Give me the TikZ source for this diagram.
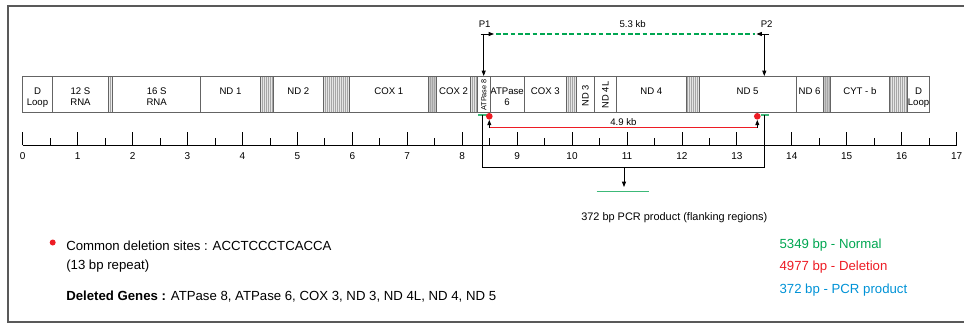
\documentclass[tikz,border=0pt]{standalone}
\usepackage{fontspec}
\setmainfont{Liberation Sans}
\usetikzlibrary{arrows.meta,positioning,calc}
\definecolor{okgreen}{RGB}{0,166,81}
\definecolor{markgreen}{RGB}{60,185,120}
\definecolor{delred}{RGB}{237,28,36}
\definecolor{pcrblue}{RGB}{0,146,214}
\definecolor{edge}{RGB}{100,100,100}
\tikzset{
  gene/.style ={draw=edge,fill=white,line width=0.6pt},
  trna/.style ={draw=edge,fill=gray!20,line width=0.6pt},
  glab/.style ={font=\fontsize{7.2}{8.6}\selectfont,align=center,inner sep=0pt,anchor=north},
  vlab/.style ={font=\fontsize{7}{8}\selectfont,inner sep=0pt,rotate=90},
  small/.style={font=\fontsize{7.2}{8}\selectfont,inner sep=0pt,anchor=base west},
  txt/.style  ={font=\fontsize{9.9}{11}\selectfont,inner sep=0pt,anchor=base west},
  ar/.style   ={-{Triangle[length=4pt,width=3pt]},line width=0.6pt},
  site/.style ={circle,fill=delred,inner sep=0pt,minimum size=5pt},
}

\begin{document}
\begin{tikzpicture}[x=0.75pt,y=-0.75pt]
  \useasboundingbox (0,0) rectangle (964,324);
  % frame
  \draw[gray!70!black,line width=1pt] (964,6) -- (8,6) -- (8,322) -- (964,322);

  % tRNA strips
  \foreach \a/\b/\c in {108.7/112.7/15, 260.3/273.3/20, 323.3/349.3/20, 428.3/436.7/45,
                        470.5/477.3/20, 566.7/576.7/20, 686/699.3/20, 823.3/830.7/45, 889/907.7/20}{
    \draw[trna,fill=gray!\c] (\a,76) rectangle (\b,112.5);
    \pgfmathsetmacro\nx{\a+1.5}
    \pgfmathsetmacro\ny{\a+3.5}
    \foreach \x in {\nx,\ny,...,\b} \draw[gray!70,line width=0.45pt] (\x,76.5) -- (\x,112);
  }
  % genes
  \foreach \a/\b/\t [count=\n] in {22.7/52.3/{D\\Loop}, 52.3/108.7/{12 S\\RNA}, 112.7/200.7/{16 S\\RNA},
      200.7/260.3/ND 1, 273.3/323.3/ND 2, 349.3/428.3/COX 1, 436.7/470.5/COX 2,
      490.2/524/{ATPase\\6}, 524/566.7/COX 3, 616.7/686/ND 4, 699.3/796/ND 5,
      796/823.3/ND 6, 830.7/889/CYT - b, 907.7/929.3/{D\\Loop}}{
    \draw[gene] (\a,76) rectangle (\b,112.5);
    \node[glab] (g\n) at ({(\a+\b)/2},87.3) {\t};
  }
  \draw[gene] (477.3,76) rectangle (490.2,112.5);
  \draw[gene] (576.7,76) rectangle (594.3,112.5);
  \draw[gene] (594.3,76) rectangle (616.7,112.5);
  \node[vlab,font=\fontsize{5.5}{6}\selectfont] (atp8) at (483.8,95) {ATPase 8};
  \node[vlab] (nd3) at (585.5,96) {ND 3};
  \node[vlab] (nd4l) at (605.5,95) {ND 4L};
  \draw[edge,line width=0.6pt] (22.7,76) rectangle (929.3,112.5);

  % ruler
  \begin{scope}[shift={(22.7,0)},x=41.2pt]
    \draw[line width=0.6pt] (0,145.3) -- (17,145.3);
    \foreach \i in {0,...,17}{
      \draw[line width=0.6pt] (\i,145.3) -- (\i,132.3);
      \node[font=\fontsize{7.5}{8}\selectfont,inner sep=0pt,anchor=base] (k\i) at (\i,159.3) {\i};
    }
    \foreach \i in {0,...,16}
      \draw[line width=0.6pt] (\i+0.5,145.3) -- (\i+0.5,137.7);
  \end{scope}

  % primers
  \node[small] (p1) at (478.5,27.7) {P1};
  \node[small] (p2) at (760.5,27.7) {P2};
  \coordinate (p1s) at (483.7,34);
  \coordinate (p1e) at (483.7,76);
  \coordinate (p2s) at (764.3,34);
  \coordinate (p2e) at (764.3,76);
  \coordinate (p1l) at (480.5,34);
  \coordinate (p1h) at (494,34);
  \coordinate (p2r) at (769,34);
  \coordinate (p2h) at (756.5,34);
  \draw[ar] (p1s) -- (p1e);
  \draw[ar] (p2s) -- (p2e);
  \draw[ar] (p1l) -- (p1h);
  \draw[ar] (p2r) -- (p2h);
  \draw[color=okgreen,line width=0.9pt,dash pattern=on 3.5pt off 2pt] ($(p1h)+(2,0)$) -- ($(p2h)+(-2,0)$);
  \node[small] (d53) at (619.3,27.7) {5.3 kb};
  \draw[color=markgreen,line width=1.4pt] (478,114.8) -- (486.7,114.8);
  \draw[color=markgreen,line width=1.4pt] (760.7,114.8) -- (769,114.8);

  % deletion
  \node[site] (s1) at (489.3,116.3) {};
  \node[site] (s2) at (757.3,116.3) {};
  \coordinate (r1) at (489.3,127.7);
  \coordinate (r2) at (757.3,127.7);
  \draw[color=delred,line width=1.1pt] (r1) -- (r2);
  \draw[ar] (r1) -- (s1.south);
  \draw[ar] (r2) -- (s2.south);
  \node[small] (d49) at (610,125.2) {4.9 kb};

  % PCR product
  \coordinate (b1) at (482.3,115);
  \coordinate (b2) at (764.3,115);
  \coordinate (bm) at (624,167.5);
  \coordinate (pcr) at (624,187);
  \draw[line width=0.6pt] (b1) -- ++(0,52.5) -| (b2);
  \draw[ar] (bm) -- (pcr);
  \draw[color=markgreen,line width=1.1pt] (596.7,191.3) -- (649.3,191.3);
  \node[txt,font=\fontsize{8.2}{10}\selectfont] (pcrl) at (581,220) {372 bp PCR product (flanking regions)};

  % notes
  \node[site,minimum size=4.5pt] (dot) at (52.7,242.5) {};
  \node[txt] (n1) at (66,250) {Common deletion sites : ACCTCCCTCACCA};
  \node[txt] (n2) at (66,269) {(13 bp repeat)};
  \node[txt] (n3) at (66,300.7) {\textbf{Deleted Genes :} ATPase 8, ATPase 6, COX 3, ND 3, ND 4L, ND 4, ND 5};
  \node[txt,text=okgreen] (l1) at (779.3,248.3) {5349 bp - Normal};
  \node[txt,text=delred]  (l2) at (779.3,270.7) {4977 bp - Deletion};
  \node[txt,text=pcrblue] (l3) at (779.3,293.3) {372 bp - PCR product};
\end{tikzpicture}
\end{document}
